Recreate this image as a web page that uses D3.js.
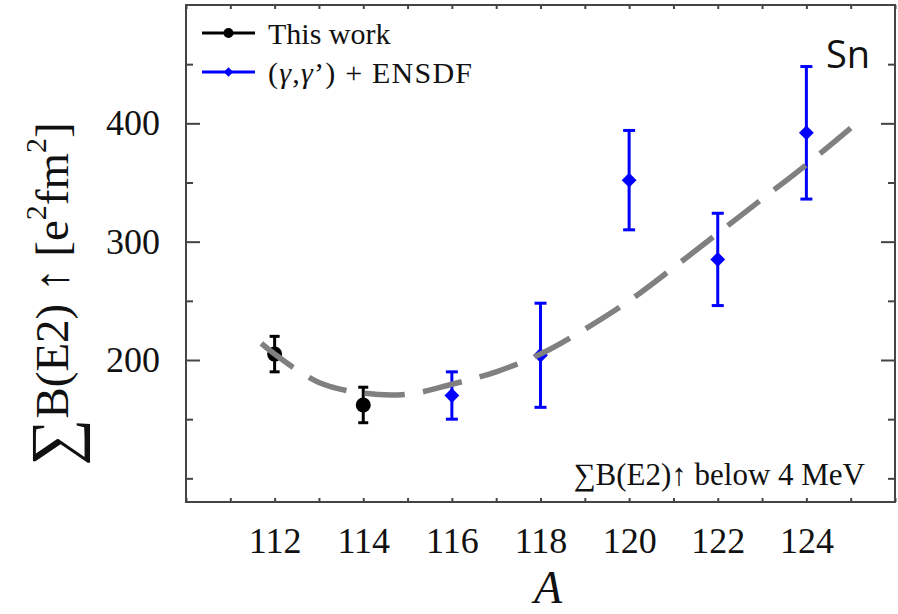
<!DOCTYPE html>
<html>
<head>
<meta charset="utf-8">
<script src="https://cdn.jsdelivr.net/npm/d3@7"></script>
<style>
  body { margin: 0; background: #fff; }
  svg text { font-family: "Liberation Serif", "DejaVu Serif", serif; fill: #111; }
</style>
</head>
<body>
<svg id="chart" width="898" height="614"></svg>
<script>
// Summed B(E2)↑ strength below 4 MeV along the Sn isotopic chain
const thisWorkA   = [112, 114];
const thisWorkB   = [205, 162];
const thisWorkErr = [15, 15];

const litA   = [116, 118, 120, 122, 124];
const litB   = [170, 204, 352, 285, 392];
const litErr = [20, 44, 42, 39, 56];

// smooth trend curve (dashed)
const trendA = [111.7, 112, 113, 114, 115, 116, 117, 118, 119, 120, 121, 122, 123, 124, 125];
const trendB = [214, 205, 181, 172, 171, 179.5, 190, 205, 226, 250, 278, 307, 336, 365, 396];

const xTickValues = d3.range(110, 127, 1);
const xTickLabels = [112, 114, 116, 118, 120, 122, 124];
const yMajorTicks = [200, 300, 400];
const yMinorTicks = [100, 150, 250, 350, 450];

const svg = d3.select("#chart");
const plot = { left: 186, right: 895, top: 5, bottom: 502 };

const x = d3.scaleLinear().domain([110, 126]).range([plot.left, plot.right]);
const y = d3.scaleLinear().domain([80, 500]).range([plot.bottom, plot.top]);

const axisColor = "#444";

function styleAxis(g) {
  g.select(".domain").remove();
  g.selectAll(".tick line").attr("stroke", axisColor).attr("stroke-width", 2);
  g.selectAll(".tick text").attr("font-size", 36).attr("fill", "#111")
    .attr("font-family", "Liberation Serif, DejaVu Serif, serif");
}

// axes (ticks point inward)
svg.append("g").attr("transform", `translate(${plot.left},0)`)
  .call(d3.axisLeft(y).tickValues(yMajorTicks).tickSize(-14).tickPadding(26).tickFormat(d3.format("d")))
  .call(styleAxis);
svg.append("g").attr("transform", `translate(${plot.left},0)`)
  .call(d3.axisLeft(y).tickValues(yMinorTicks).tickSize(-7).tickFormat(""))
  .call(styleAxis);
svg.append("g").attr("transform", `translate(${plot.right},0)`)
  .call(d3.axisRight(y).tickValues(yMajorTicks).tickSize(-14).tickFormat(""))
  .call(styleAxis);
svg.append("g").attr("transform", `translate(${plot.right},0)`)
  .call(d3.axisRight(y).tickValues(yMinorTicks).tickSize(-7).tickFormat(""))
  .call(styleAxis);
svg.append("g").attr("transform", `translate(0,${plot.bottom})`)
  .call(d3.axisBottom(x).tickValues(xTickValues).tickSize(-4).tickPadding(25)
    .tickFormat(d => xTickLabels.includes(d) ? String(d) : ""))
  .call(styleAxis);
svg.append("g").attr("transform", `translate(0,${plot.top})`)
  .call(d3.axisTop(x).tickValues(xTickValues).tickSize(-4).tickFormat(""))
  .call(styleAxis);

// frame
svg.append("rect")
  .attr("x", plot.left).attr("y", plot.top)
  .attr("width", plot.right - plot.left).attr("height", plot.bottom - plot.top)
  .attr("fill", "none").attr("stroke", axisColor).attr("stroke-width", 2);

// error bars
function errorBars(As, Bs, errs, color, capHalf, width) {
  const g = svg.append("g").attr("stroke", color).attr("stroke-width", width);
  As.forEach((a, i) => {
    const cx = x(a), y0 = y(Bs[i] - errs[i]), y1 = y(Bs[i] + errs[i]);
    g.append("line").attr("x1", cx).attr("x2", cx).attr("y1", y0).attr("y2", y1);
    g.append("line").attr("x1", cx - capHalf).attr("x2", cx + capHalf).attr("y1", y0).attr("y2", y0);
    g.append("line").attr("x1", cx - capHalf).attr("x2", cx + capHalf).attr("y1", y1).attr("y2", y1);
  });
}
errorBars(thisWorkA, thisWorkB, thisWorkErr, "#000", 5, 3);
errorBars(litA, litB, litErr, "#0000ff", 6, 3);

// markers
svg.append("g").selectAll("circle")
  .data(thisWorkA.map((a, i) => [a, thisWorkB[i]]))
  .join("circle")
  .attr("cx", d => x(d[0])).attr("cy", d => y(d[1])).attr("r", 7.5)
  .attr("fill", "#000");

const diamond = d3.symbol().type(d3.symbolSquare).size(110);
svg.append("g").selectAll("path")
  .data(litA.map((a, i) => [a, litB[i]]))
  .join("path")
  .attr("d", diamond)
  .attr("transform", d => `translate(${x(d[0])},${y(d[1])}) rotate(45)`)
  .attr("fill", "#0000ff");

// dashed trend curve: dash pattern stretched so the curve starts and ends on a dash
const trendLine = d3.line().x(d => x(d[0])).y(d => y(d[1])).curve(d3.curveCatmullRom.alpha(0.5));
const trendPath = svg.append("path")
  .datum(trendA.map((a, i) => [a, trendB[i]]))
  .attr("d", trendLine)
  .attr("fill", "none")
  .attr("stroke", "#808080")
  .attr("stroke-width", 5.5);
const totalLen = trendPath.node().getTotalLength();
const dashLen = 40;
const nDash = Math.round((totalLen + 17) / (dashLen + 17));
const gapLen = (totalLen - nDash * dashLen) / (nDash - 1);
trendPath.attr("stroke-dasharray", `${dashLen},${gapLen}`);

// legend
const lg = svg.append("g");
lg.append("line").attr("x1", 202).attr("x2", 255).attr("y1", 33).attr("y2", 33)
  .attr("stroke", "#000").attr("stroke-width", 3);
lg.append("circle").attr("cx", 228.5).attr("cy", 33).attr("r", 5).attr("fill", "#000");
lg.append("text").attr("x", 268).attr("y", 44).attr("font-size", 30).text("This work");

lg.append("line").attr("x1", 202).attr("x2", 255).attr("y1", 72).attr("y2", 72)
  .attr("stroke", "#0000ff").attr("stroke-width", 3);
lg.append("path").attr("d", d3.symbol().type(d3.symbolSquare).size(45))
  .attr("transform", "translate(228.5,72) rotate(45)").attr("fill", "#0000ff");
const lt = lg.append("text").attr("x", 268).attr("y", 83).attr("font-size", 30)
  .attr("textLength", 204).attr("lengthAdjust", "spacing");
lt.append("tspan").text("(");
lt.append("tspan").attr("font-style", "italic").text("γ");
lt.append("tspan").text(",");
lt.append("tspan").attr("font-style", "italic").text("γ");
lt.append("tspan").text("’) + ENSDF");

// in-plot annotation
const ann = svg.append("text").attr("x", 865).attr("y", 485).attr("text-anchor", "end").attr("font-size", 31);
ann.append("tspan").text("∑B(E2)↑ below 4 MeV");

// element label
svg.append("text").attr("x", 826).attr("y", 68).attr("font-size", 38)
  .style("font-family", "'Open Sans', 'Liberation Sans', sans-serif").text("Sn");

// x-axis title
svg.append("text").attr("x", 548).attr("y", 603).attr("text-anchor", "middle")
  .attr("font-size", 46).attr("font-style", "italic").text("A");

// y-axis title
const yt = svg.append("text")
  .attr("transform", "translate(68,294) rotate(-90)")
  .attr("text-anchor", "middle").attr("font-size", 47);
yt.append("tspan").attr("font-size", 66).attr("dy", 8).text("∑");
yt.append("tspan").attr("dy", -8).text("B(E2) ↑  [e");
yt.append("tspan").attr("font-size", 30).attr("dy", -22).text("2");
yt.append("tspan").attr("dy", 22).text("fm");
yt.append("tspan").attr("font-size", 30).attr("dy", -22).text("2");
yt.append("tspan").attr("dy", 22).text("]");
</script>
</body>
</html>
